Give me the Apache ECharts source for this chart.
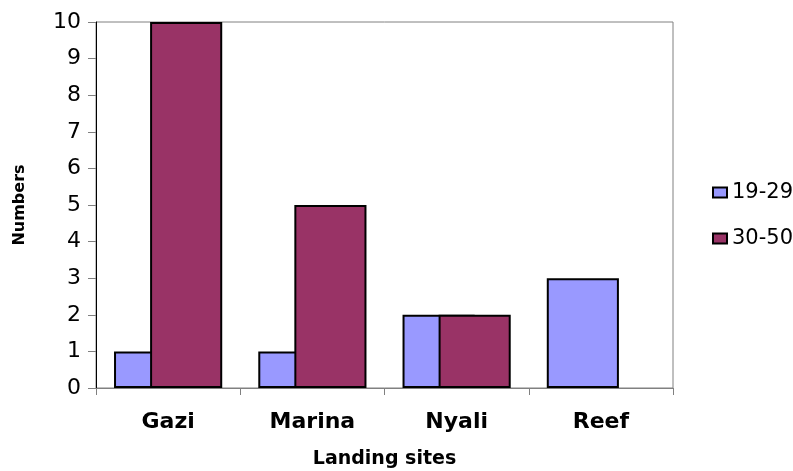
<!DOCTYPE html>
<html>
<head>
<meta charset="utf-8">
<style>
  html, body { margin: 0; padding: 0; background: #ffffff; }
  #chart { width: 793px; height: 471px; }
</style>
<script src="https://cdn.jsdelivr.net/npm/echarts@6/dist/echarts.min.js"></script>
</head>
<body>
<div id="chart"></div>
<script>
// Landing sites and counts per age group
var sites = ['Gazi', 'Marina', 'Nyali', 'Reef'];
var age19to29 = [1, 1, 2, 3];
var age30to50 = [10, 5, 2, 0];
var yTicks = [0, 1, 2, 3, 4, 5, 6, 7, 8, 9, 10];

var FONT = 'DejaVu Sans';

// a zero-height bar would leave its outline on the axis, so drop the border there
function toItems(values) {
  return values.map(function (v) {
    return v === 0 ? { value: v, itemStyle: { borderWidth: 0 } } : v;
  });
}

var chart = echarts.init(document.getElementById('chart'), null, { renderer: 'canvas' });

chart.setOption({
  animation: false,
  backgroundColor: '#ffffff',
  textStyle: { fontFamily: FONT, color: '#000' },
  grid: {
    left: 96, right: 120, top: 22, bottom: 83,
    containLabel: false,
    outerBoundsMode: 'none',
    show: true, borderColor: '#808080', borderWidth: 1, backgroundColor: '#ffffff'
  },
  legend: {
    orient: 'vertical',
    left: 707, top: 177,
    itemWidth: 14, itemHeight: 10, itemGap: 25,
    icon: 'rect',
    textStyle: { fontFamily: FONT, fontSize: 21, color: '#000', padding: [0, 0, 0, 0] },
    data: ['19-29', '30-50']
  },
  xAxis: {
    type: 'category',
    data: sites,
    name: 'Landing sites',
    nameLocation: 'middle',
    nameGap: 62,
    nameTextStyle: { fontFamily: FONT, fontSize: 19, fontWeight: 'bold', color: '#000' },
    axisLine: { show: true, lineStyle: { color: '#808080', width: 1 } },
    axisTick: { show: true, length: 7, lineStyle: { color: '#808080' } },
    axisLabel: { fontFamily: FONT, fontSize: 22, fontWeight: 'bold', color: '#000', margin: 23 },
    splitLine: { show: false }
  },
  yAxis: {
    type: 'value',
    min: yTicks[0],
    max: yTicks[yTicks.length - 1],
    interval: 1,
    name: 'Numbers',
    nameLocation: 'middle',
    nameGap: 68,
    nameRotate: 90,
    nameTextStyle: { fontFamily: FONT, fontSize: 16, fontWeight: 'bold', color: '#000' },
    axisLine: { show: true, lineStyle: { color: '#000', width: 1 } },
    axisTick: { show: true, length: 8, lineStyle: { color: '#808080' } },
    axisLabel: { fontFamily: FONT, fontSize: 22, color: '#000', margin: 15 },
    splitLine: { show: false }
  },
  series: [
    {
      name: '19-29',
      type: 'bar',
      data: toItems(age19to29),
      barWidth: '50%',
      barGap: '-50%',
      itemStyle: { color: '#9999FF', borderColor: '#000', borderWidth: 2 }
    },
    {
      name: '30-50',
      type: 'bar',
      data: toItems(age30to50),
      barWidth: '50%',
      barGap: '-50%',
      itemStyle: { color: '#993366', borderColor: '#000', borderWidth: 2 }
    }
  ]
});
</script>
</body>
</html>
